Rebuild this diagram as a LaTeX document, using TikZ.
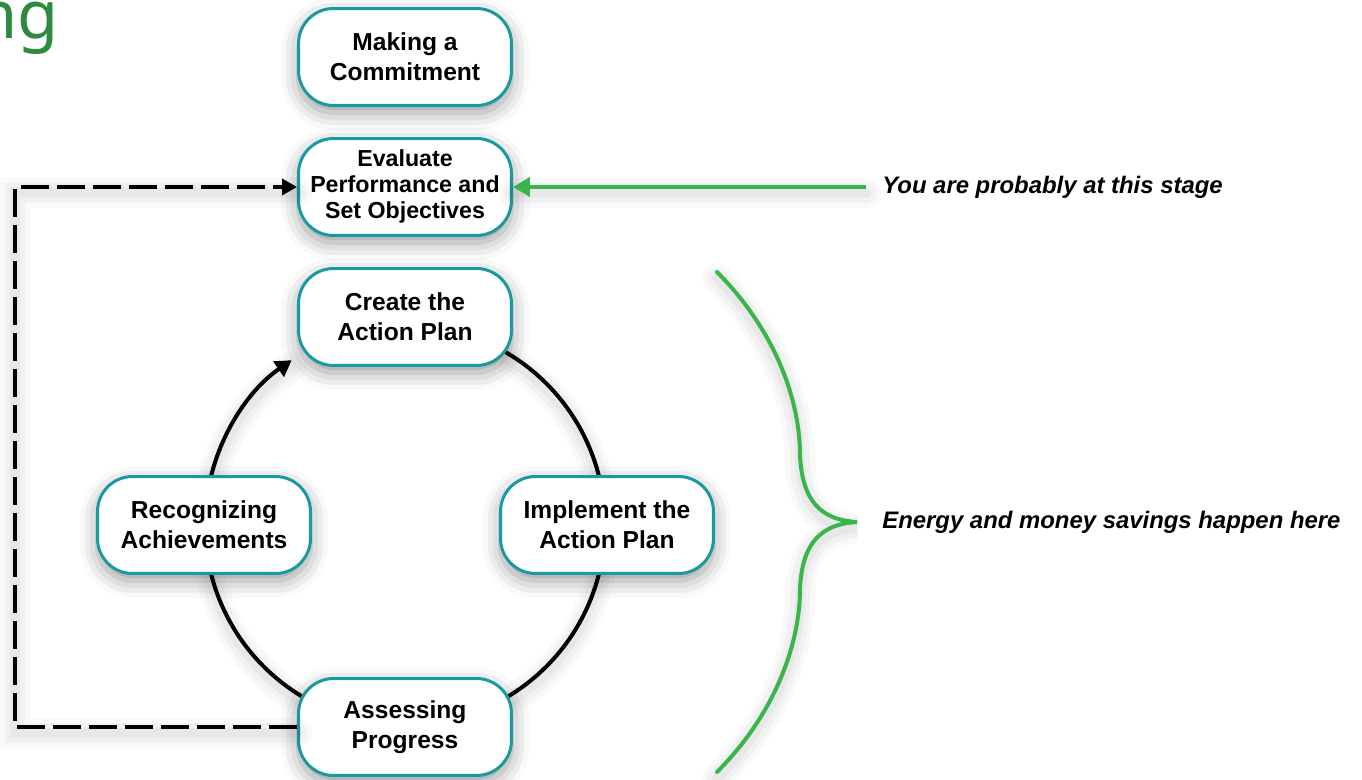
\documentclass[tikz,border=0pt]{standalone}
\usepackage{fontspec}
\setmainfont{Liberation Sans}
\newfontfamily\headfont{Noto Sans}
\usetikzlibrary{arrows.meta,positioning,shadows.blur}

\definecolor{stageteal}{HTML}{1A9AA0}
\definecolor{leafgreen}{HTML}{3AB54A}
\definecolor{headgreen}{HTML}{2E8B3E}

\begin{document}
\begin{tikzpicture}[
    x=0.02cm, y=0.02cm,
    stage/.style={draw=stageteal, line width=0.06cm, fill=white, rounded corners=0.7cm,
        minimum width=4.26cm, minimum height=1.94cm, align=center,
        font=\fontsize{14}{17}\selectfont\bfseries,
        blur shadow={shadow xshift=0pt, shadow yshift=-4pt, shadow blur radius=10pt, shadow opacity=40}},
    note/.style={inner sep=0pt, anchor=west, font=\fontsize{13.6}{17}\selectfont\bfseries\itshape},
    haze/.style={
        preaction={draw=black, solid, -, line cap=round, line width=0.6cm, draw opacity=0.025, transform canvas={yshift=-0.12cm}},
        preaction={draw=black, solid, -, line cap=round, line width=0.4cm, draw opacity=0.03, transform canvas={yshift=-0.12cm}},
        preaction={draw=black, solid, -, line cap=round, line width=0.2cm, draw opacity=0.04, transform canvas={yshift=-0.12cm}}},
    ring/.style={haze, line width=0.08cm},
    feedback/.style={haze, line width=0.08cm, dash pattern=on 0.56cm off 0.16cm,
        -{Triangle[length=0.3cm, width=0.32cm]}},
    pointer/.style={haze, draw=leafgreen, line width=0.08cm, -{Triangle[length=0.34cm, width=0.38cm, fill=leafgreen]}},
    brace/.style={haze, draw=leafgreen, line width=0.08cm, line cap=round}
]
\useasboundingbox (0,0) rectangle (1362,-780);

% tail of the heading
\node[font=\headfont\fontsize{38}{40}\selectfont, text=headgreen, anchor=base east, inner sep=0pt] (heading) at (59,-39) {ng};

% the cycle ring, drawn under the boxes
\coordinate (hub) at (405,-525);
\foreach \from/\to in {70/10, -10/-70, -110/-170}
    \draw[ring] ([shift={(\from:200)}]hub) arc[start angle=\from, end angle=\to, radius=200];
\draw[ring, -{Triangle[length=0.32cm, width=0.36cm]}] ([shift={(170:200)}]hub) arc[start angle=170, end angle=124.5, radius=200];

% back to the start
\coordinate (rail) at (15,-187);

% stages
\node[stage] (commit) at (405,-57) {Making a\\Commitment};
\node[stage, font=\fontsize{13.2}{14.8}\selectfont\bfseries] (evaluate) at (405,-187) {Evaluate\\Performance and\\Set Objectives};
\node[stage] (create) at (405,-317) {Create the\\Action Plan};
\node[stage] (implement) at (607,-525) {Implement the\\Action Plan};
\node[stage] (recognize) at (204,-525) {Recognizing\\Achievements};
\node[stage] (assess) at (405,-727) {Assessing\\Progress};

\draw[feedback] (assess.west) -| (rail) -- (evaluate.west);

% where you are
\node[note, inner xsep=0.32cm] (stagenote) at (866,-187) {You are probably at this stage};
\draw[pointer] (stagenote.west) -- (evaluate.east);

% brace round the cycle
\coordinate (bracetop) at (717,-272);
\coordinate (bracetip) at (857,-522);
\coordinate (bracefoot) at (717,-772);
\draw[brace] (bracetop) .. controls (775,-330) and (800,-400) .. (800,-455)
    .. controls (802,-500) and (820,-520) .. (bracetip)
    .. controls (820,-524) and (802,-544) .. (800,-589)
    .. controls (800,-644) and (775,-714) .. (bracefoot);
\node[note, right=0.5cm of bracetip] (savingsnote) {Energy and money savings happen here};
\end{tikzpicture}
\end{document}
